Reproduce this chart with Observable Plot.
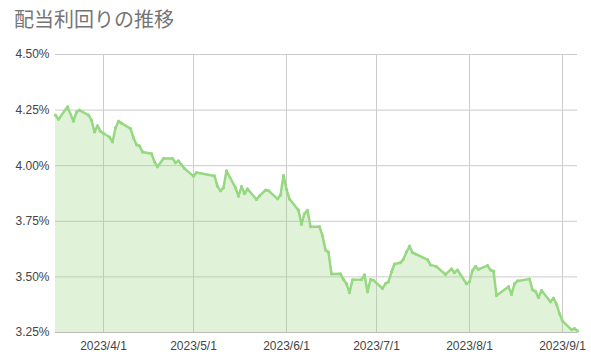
<!DOCTYPE html>
<html>
<head>
<meta charset="utf-8">
<script src="https://cdn.jsdelivr.net/npm/d3@7"></script>
<script src="https://cdn.jsdelivr.net/npm/@observablehq/plot@0.6"></script>
<style>
  html, body { margin: 0; padding: 0; background: #fff; }
  #wrap { width: 591px; height: 363px; position: relative; overflow: hidden; }
  #title { height: 40px; box-sizing: border-box; padding: 5px 0 0 14px; font-family: "Noto Sans CJK JP", sans-serif; font-size: 20px; line-height: 28px; color: #757575; }
</style>
</head>
<body>
<div id="wrap">
  <div id="title">配当利回りの推移</div>
  <div id="chart"></div>
</div>
<script>
const title = "配当利回りの推移";
const dates = [
  "2023-03-16","2023-03-17","2023-03-20","2023-03-22","2023-03-23","2023-03-24","2023-03-27","2023-03-28","2023-03-29","2023-03-30","2023-03-31",
  "2023-04-01","2023-04-03","2023-04-04","2023-04-05","2023-04-06","2023-04-07","2023-04-10","2023-04-11","2023-04-12","2023-04-13","2023-04-14","2023-04-17","2023-04-18","2023-04-19","2023-04-21","2023-04-24","2023-04-25","2023-04-26","2023-04-27","2023-04-28",
  "2023-05-01","2023-05-02","2023-05-08","2023-05-09","2023-05-10","2023-05-11","2023-05-12","2023-05-15","2023-05-16","2023-05-17","2023-05-18","2023-05-19","2023-05-22","2023-05-23","2023-05-25","2023-05-26","2023-05-29","2023-05-30","2023-05-31",
  "2023-06-01","2023-06-02","2023-06-05","2023-06-06","2023-06-07","2023-06-08","2023-06-09","2023-06-12","2023-06-13","2023-06-14","2023-06-15","2023-06-16","2023-06-19","2023-06-20","2023-06-21","2023-06-22","2023-06-23","2023-06-26","2023-06-27","2023-06-28","2023-06-29","2023-06-30",
  "2023-07-03","2023-07-04","2023-07-05","2023-07-06","2023-07-07","2023-07-09","2023-07-10","2023-07-11","2023-07-12","2023-07-13","2023-07-14","2023-07-18","2023-07-19","2023-07-21","2023-07-24","2023-07-26","2023-07-27","2023-07-28","2023-07-31",
  "2023-08-01","2023-08-02","2023-08-03","2023-08-04","2023-08-07","2023-08-08","2023-08-09","2023-08-10","2023-08-14","2023-08-15","2023-08-16","2023-08-17","2023-08-21","2023-08-22","2023-08-23","2023-08-24","2023-08-25","2023-08-28","2023-08-29","2023-08-30","2023-08-31",
  "2023-09-01","2023-09-04","2023-09-05","2023-09-06"
];
const yields = [
  4.227,4.209,4.265,4.200,4.241,4.250,4.227,4.205,4.152,4.179,4.155,
  4.145,4.129,4.107,4.170,4.200,4.191,4.167,4.125,4.094,4.089,4.062,4.054,4.017,3.995,4.032,4.032,4.013,4.022,4.004,3.987,
  3.953,3.969,3.954,3.907,3.887,3.901,3.977,3.901,3.863,3.906,3.874,3.896,3.848,3.864,3.890,3.888,3.851,3.867,3.956,
  3.894,3.850,3.800,3.736,3.785,3.799,3.726,3.726,3.684,3.621,3.611,3.513,3.514,3.488,3.469,3.429,3.487,3.488,3.509,3.433,3.488,3.485,
  3.448,3.470,3.478,3.522,3.558,3.564,3.580,3.612,3.638,3.609,3.603,3.578,3.554,3.546,3.511,3.536,3.519,3.531,3.469,
  3.478,3.529,3.547,3.534,3.551,3.531,3.526,3.416,3.456,3.421,3.469,3.482,3.490,3.442,3.435,3.407,3.439,3.388,3.405,3.377,3.335,
  3.302,3.262,3.268,3.257
];
const yTicks = [3.25, 3.50, 3.75, 4.00, 4.25, 4.50];
const xTickLabels = ["2023/4/1","2023/5/1","2023/6/1","2023/7/1","2023/8/1","2023/9/1"];

const parseLabel = s => { const [y, m, d] = s.split("/").map(Number); return new Date(Date.UTC(y, m - 1, d)); };
const xTicks = xTickLabels.map(parseLabel);
const data = dates.map((d, i) => ({date: new Date(d + "T00:00:00Z"), value: yields[i]}));
const xDomain = [data[0].date, data[data.length - 1].date];
const fmtDate = d => `${d.getUTCFullYear()}/${d.getUTCMonth() + 1}/${d.getUTCDate()}`;
const green = "#97d882";

const chart = Plot.plot({
  width: 591,
  height: 323,
  marginLeft: 55,
  marginRight: 14,
  marginTop: 14,
  marginBottom: 31,
  style: {fontFamily: "Arial, 'Liberation Sans', sans-serif", fontSize: "12px", color: "#444", background: "#fff"},
  x: {type: "utc", domain: xDomain},
  y: {domain: [3.25, 4.5]},
  marks: [
    Plot.gridY(yTicks, {stroke: "#cccccc", strokeOpacity: 1}),
    Plot.gridX(xTicks, {stroke: "#cccccc", strokeOpacity: 1}),
    Plot.areaY(data, {x: "date", y1: 3.25, y2: "value", fill: green, fillOpacity: 0.3}),
    Plot.line(data, {x: "date", y: "value", stroke: green, strokeWidth: 2.5, strokeLinejoin: "round"}),
    Plot.dot(data, {x: "date", y: "value", r: 1.6, fill: green, stroke: "none"}),
    Plot.ruleY([3.25], {stroke: "#bbbbbb"}),
    Plot.axisY(yTicks, {tickSize: 0, tickPadding: 6, tickFormat: d => d.toFixed(2) + "%", label: null, fill: "#444"}),
    Plot.axisX(xTicks, {tickSize: 0, tickPadding: 9, tickFormat: fmtDate, label: null, fill: "#444"})
  ]
});
document.getElementById("chart").appendChild(chart);
</script>
</body>
</html>
